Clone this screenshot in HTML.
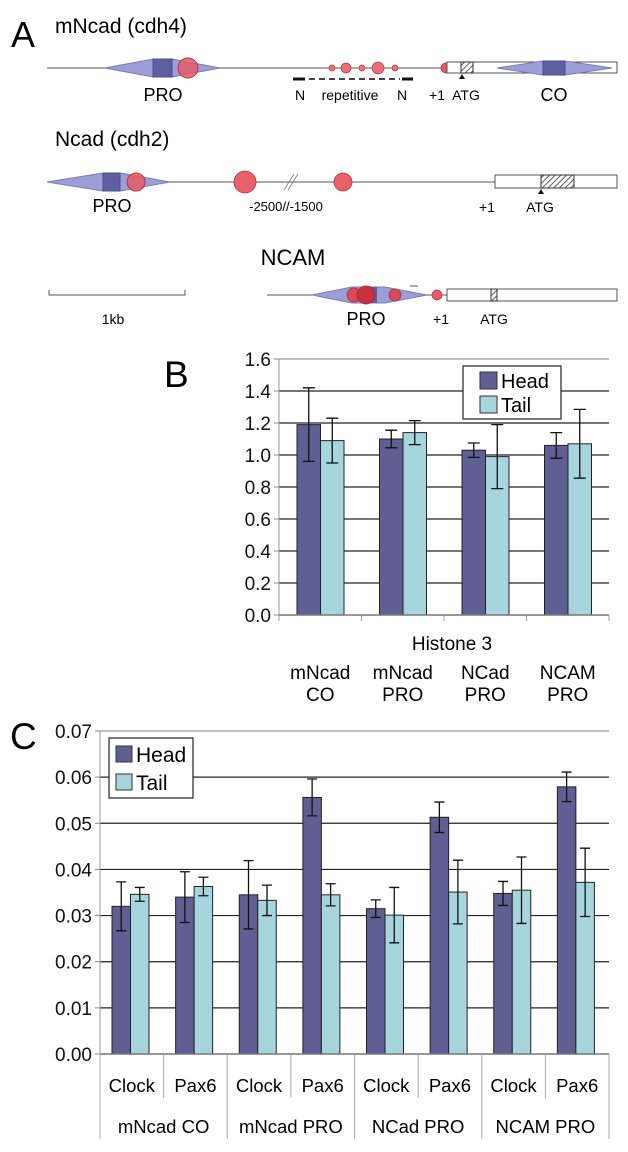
<!DOCTYPE html>
<html><head><meta charset="utf-8">
<style>
html,body{margin:0;padding:0;background:#fff;}
svg{display:block;font-family:"Liberation Sans",Arial,sans-serif;}
</style></head>
<body>
<svg id="fig" width="628" height="1152" viewBox="0 0 628 1152" xmlns="http://www.w3.org/2000/svg">
<defs>
<pattern id="hatch" width="4" height="4" patternUnits="userSpaceOnUse" patternTransform="rotate(45)">
<rect width="4" height="4" fill="#fff"/><line x1="0" y1="0" x2="0" y2="4" stroke="#333" stroke-width="1.6"/>
</pattern>
</defs>
<!-- Panel A -->
<g>
<text x="11" y="47" font-size="36">A</text>
<text x="55" y="33" font-size="21">mNcad (cdh4)</text>
<g>
<line x1="47" y1="68" x2="447" y2="68" stroke="#555" stroke-width="1"/>
<polygon points="105,68 153,59 172,59 220,68 172,77 153,77" fill="#9c9fd6" stroke="#7a7cb8"/>
<rect x="153" y="59" width="19" height="18" fill="#5d5f9e" stroke="#4a4c88"/>
<circle cx="188" cy="68" r="10" fill="#e45a66" fill-opacity="0.85" stroke="#c03040"/>
<circle cx="332" cy="68" r="3" fill="#e8707a" stroke="#c03040" stroke-width="0.7"/>
<circle cx="346" cy="68" r="5" fill="#e8707a" stroke="#c03040" stroke-width="0.7"/>
<circle cx="362" cy="68" r="3" fill="#e8707a" stroke="#c03040" stroke-width="0.7"/>
<circle cx="378" cy="68" r="6" fill="#e8707a" stroke="#c03040" stroke-width="0.7"/>
<circle cx="395" cy="68" r="3" fill="#e8707a" stroke="#c03040" stroke-width="0.7"/>
<line x1="309" y1="79" x2="400" y2="79" stroke="#444" stroke-width="2" stroke-dasharray="6,4"/>
<rect x="293" y="77.5" width="12" height="3" fill="#111"/>
<rect x="402" y="77.5" width="11" height="3" fill="#111"/>
<circle cx="446" cy="68" r="5" fill="#e45a66" stroke="#c03040" stroke-width="0.7"/>
<rect x="447" y="62" width="170" height="11" fill="#fff" stroke="#555"/>
<rect x="461" y="62" width="12" height="11" fill="url(#hatch)" stroke="#333"/>
<polygon points="462,74 459,79 465,79" fill="#111"/>
<polygon points="497,68 543,61 565,61 612,68 565,75 543,75" fill="#9c9fd6" stroke="#7a7cb8"/>
<rect x="543" y="61" width="22" height="14" fill="#5d5f9e" stroke="#4a4c88"/>
<text x="163" y="101" font-size="18" text-anchor="middle">PRO</text>
<text x="300" y="100" font-size="14" text-anchor="middle">N</text>
<text x="350" y="100" font-size="14" text-anchor="middle">repetitive</text>
<text x="402" y="100" font-size="14" text-anchor="middle">N</text>
<text x="437" y="100" font-size="14" text-anchor="middle">+1</text>
<text x="466" y="100" font-size="14" text-anchor="middle">ATG</text>
<text x="554" y="101" font-size="18" text-anchor="middle">CO</text>
</g>
<text x="55" y="146" font-size="21">Ncad (cdh2)</text>
<g>
<line x1="47" y1="182" x2="495" y2="182" stroke="#555"/>
<polygon points="47,182 103,173 120,173 170,182 120,191 103,191" fill="#9c9fd6" stroke="#7a7cb8"/>
<rect x="103" y="173" width="17" height="18" fill="#5d5f9e" stroke="#4a4c88"/>
<circle cx="136" cy="182" r="9" fill="#e45a66" fill-opacity="0.85" stroke="#c03040"/>
<circle cx="245" cy="182" r="11" fill="#e8606a" stroke="#c03040" stroke-width="0.8"/>
<line x1="284" y1="190" x2="294" y2="174" stroke="#888"/>
<line x1="288" y1="190" x2="298" y2="174" stroke="#888"/>
<circle cx="343" cy="182" r="9" fill="#e8606a" stroke="#c03040" stroke-width="0.8"/>
<rect x="495" y="175" width="122" height="13" fill="#fff" stroke="#555"/>
<rect x="541" y="175" width="33" height="13" fill="url(#hatch)" stroke="#333"/>
<polygon points="541,189 538,194 544,194" fill="#111"/>
<text x="112" y="212" font-size="18" text-anchor="middle">PRO</text>
<text x="286" y="211" font-size="13" text-anchor="middle">-2500//-1500</text>
<text x="487" y="212" font-size="14" text-anchor="middle">+1</text>
<text x="540" y="212" font-size="14" text-anchor="middle">ATG</text>
</g>
<text x="293" y="265" font-size="22" text-anchor="middle">NCAM</text>
<g>
<path d="M49,290 V295 H185 V290" fill="none" stroke="#555"/>
<text x="113" y="324" font-size="14" text-anchor="middle">1kb</text>
<line x1="267" y1="295" x2="447" y2="295" stroke="#555"/>
<polygon points="312,295 352,287 385,287 427,295 385,303 352,303" fill="#9c9fd6" stroke="#7a7cb8"/>
<rect x="365" y="287" width="12" height="16" fill="#5d5f9e"/>
<circle cx="354" cy="295" r="7" fill="#d84a58" stroke="#b02838" stroke-width="0.7"/>
<circle cx="366" cy="295" r="9" fill="#c8323f" stroke="#a02030" stroke-width="0.7"/>
<circle cx="395" cy="295" r="6" fill="#d84a58" stroke="#b02838" stroke-width="0.7"/>
<line x1="410" y1="286" x2="418" y2="286" stroke="#555"/>
<circle cx="437" cy="295" r="5" fill="#e45a66" stroke="#c03040" stroke-width="0.7"/>
<rect x="447" y="289" width="170" height="12" fill="#fff" stroke="#555"/>
<rect x="491" y="289" width="6" height="12" fill="url(#hatch)" stroke="#333"/>
<text x="366" y="325" font-size="18" text-anchor="middle">PRO</text>
<text x="441" y="324" font-size="14" text-anchor="middle">+1</text>
<text x="494" y="324" font-size="14" text-anchor="middle">ATG</text>
</g>
</g>
<g id="panelB"></g>
<g id="panelC"></g>
</svg>
<script>
const NS="http://www.w3.org/2000/svg";
// Panel B data
const bCategories=["mNcad|CO","mNcad|PRO","NCad|PRO","NCAM|PRO"];
const bHead=[1.19,1.10,1.03,1.06];
const bHeadErr=[0.23,0.055,0.045,0.08];
const bTail=[1.09,1.14,0.99,1.07];
const bTailErr=[0.14,0.075,0.20,0.215];
const bTicks=["0.0","0.2","0.4","0.6","0.8","1.0","1.2","1.4","1.6"];
// Panel C data
const cGenes=["Clock","Pax6","Clock","Pax6","Clock","Pax6","Clock","Pax6"];
const cGroups=["mNcad CO","mNcad PRO","NCad PRO","NCAM PRO"];
const cHead=[0.032,0.034,0.0345,0.0556,0.0315,0.0513,0.0348,0.0579];
const cHeadErr=[0.0053,0.0055,0.0074,0.004,0.0019,0.0033,0.0026,0.0032];
const cTail=[0.0346,0.0363,0.0333,0.0345,0.0301,0.0351,0.0355,0.0372];
const cTailErr=[0.0015,0.002,0.0033,0.0024,0.006,0.0069,0.0072,0.0074];
const cTicks=["0.00","0.01","0.02","0.03","0.04","0.05","0.06","0.07"];

const HEAD="#5f5f94",TAIL="#a6d5de";
function mk(parent,tag,attrs,text){const e=document.createElementNS(NS,tag);for(const k in attrs)e.setAttribute(k,attrs[k]);if(text!==undefined)e.textContent=text;parent.appendChild(e);return e;}

function chart(g,o){
  const yS=v=>o.y0-(v/o.max)*(o.y0-o.yTop);
  const n=o.head.length,cw=(o.x1-o.x0)/n;
  o.ticks.forEach((t,i)=>{
    const v=parseFloat(t),y=yS(v);
    if(i>0){const l=mk(g,"line",{x1:o.x0,x2:o.x1,y1:y,y2:y,stroke:i==o.ticks.length-1?"#999":"#222","stroke-width":1.2});
    
    }
    mk(g,"line",{x1:o.x0-5,x2:o.x0,y1:y,y2:y,stroke:"#888"});
    const tx=mk(g,"text",{x:o.x0-8,y:y+7,"font-size":o.fs,"text-anchor":"end",fill:"#111"},t);
    
    
  });
  mk(g,"line",{x1:o.x0,x2:o.x0,y1:o.yTop,y2:o.y0,stroke:"#999"});
  for(let i=0;i<n;i++){
    const bx=o.x0+i*cw+o.off;
    [[o.head,o.headErr,HEAD,'head'],[o.tail,o.tailErr,TAIL,'tail']].forEach((s,k)=>{
      const x=bx+k*o.bw,v=s[0][i],y=yS(v);
      const r=mk(g,"rect",{x:x,y:y,width:o.bw,height:o.y0-y,fill:s[2],stroke:"#222","stroke-width":1});
      
      
      const cx=x+o.bw/2,yt=yS(v+s[1][i]),yb=yS(v-s[1][i]);
      const eb=mk(g,"path",{d:`M${cx},${yt}V${yb}M${cx-o.cap},${yt}H${cx+o.cap}M${cx-o.cap},${yb}H${cx+o.cap}`,stroke:"#111","stroke-width":1.3,fill:"none"});
      
      
    });
  }
  mk(g,"line",{x1:o.x0,x2:o.x1,y1:o.y0,y2:o.y0,stroke:"#777","stroke-width":1.5});
  return {cw};
}

// Panel B
const gB=document.getElementById("panelB");
mk(gB,"text",{x:164,y:387,"font-size":37},"B");
const rb=chart(gB,{x0:279,x1:609,y0:615,yTop:359,max:1.6,head:bHead,headErr:bHeadErr,tail:bTail,tailErr:bTailErr,ticks:bTicks,off:18,bw:23.5,cap:6,fs:19});
for(let i=0;i<=4;i++){const x=279+i*rb.cw;mk(gB,"line",{x1:x,x2:x,y1:615,y2:621,stroke:"#999"});}
const hb=mk(gB,"text",{x:452,y:650,"font-size":19,"text-anchor":"middle"},"Histone 3");


bCategories.forEach((c,i)=>{
  const x=279+(i+0.5)*rb.cw,p=c.split("|");
  const t1=mk(gB,"text",{x:x,y:679,"font-size":19,"text-anchor":"middle"},p[0]);
  
  
  const t2=mk(gB,"text",{x:x,y:701,"font-size":19,"text-anchor":"middle"},p[1]);
  
  
});
const lgB=mk(gB,"g",{});


mk(lgB,"rect",{x:463,y:366,width:98,height:53,fill:"#fff",stroke:"#222","stroke-width":1.2});
mk(lgB,"rect",{x:480,y:372,width:17,height:17,fill:HEAD,stroke:"#333"});
mk(lgB,"text",{x:501,y:388,"font-size":20},"Head");
mk(lgB,"rect",{x:480,y:396,width:17,height:17,fill:TAIL,stroke:"#333"});
mk(lgB,"text",{x:501,y:412,"font-size":20},"Tail");

// Panel C
const gC=document.getElementById("panelC");
mk(gC,"text",{x:10,y:749,"font-size":37},"C");
const rc=chart(gC,{x0:100,x1:609,y0:1054,yTop:731,max:0.07,head:cHead,headErr:cHeadErr,tail:cTail,tailErr:cTailErr,ticks:cTicks,off:12,bw:18.5,cap:5,fs:19});
for(let i=0;i<=8;i++){const x=100+i*rc.cw;const long=(i%2==0);
  mk(gC,"line",{x1:x,x2:x,y1:1054,y2:long?1139:1098,stroke:"#aaa"});}
cGenes.forEach((c,i)=>{
  const t=mk(gC,"text",{x:100+(i+0.5)*rc.cw,y:1092,"font-size":18.5,"text-anchor":"middle"},c);
  
  
});
cGroups.forEach((c,i)=>{
  const t=mk(gC,"text",{x:100+(2*i+1)*rc.cw,y:1133,"font-size":18.5,"text-anchor":"middle"},c);
  
  
});
const lgC=mk(gC,"g",{});


mk(lgC,"rect",{x:109,y:738,width:84,height:60,fill:"#fff",stroke:"#222","stroke-width":1.2});
mk(lgC,"rect",{x:116,y:746,width:16,height:16,fill:HEAD,stroke:"#333"});
mk(lgC,"text",{x:136,y:762,"font-size":21},"Head");
mk(lgC,"rect",{x:116,y:774,width:16,height:16,fill:TAIL,stroke:"#333"});
mk(lgC,"text",{x:136,y:790,"font-size":21},"Tail");
</script>
</body></html>
